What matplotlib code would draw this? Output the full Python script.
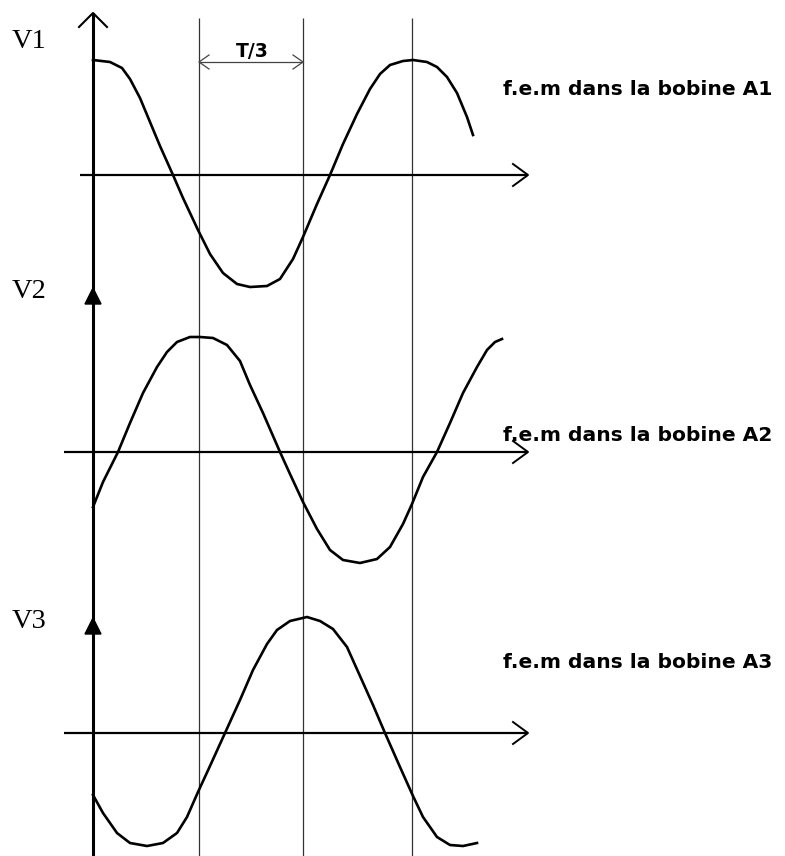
import numpy as np
import matplotlib
matplotlib.use("Agg")
import matplotlib.pyplot as plt
from matplotlib.patches import Polygon

# canvas in pixel units (x right, y down), 1 unit = 1 px
W, H = 785, 856

# emf curves: x position (px) and value above own time axis (px)
x_v1 = [93, 110, 122, 130, 140, 150, 160, 173, 183, 198, 210, 223, 237, 250, 267, 280, 293, 303,
        317, 330, 343, 357, 370, 380, 390, 403, 413, 427, 437, 447, 457, 467, 473]
v_v1 = [115, 113, 107, 96, 77, 53, 29, 0, -23, -55, -79, -98, -109, -112, -111, -104, -84, -62,
        -29, 0, 31, 61, 86, 101, 110, 114, 115, 113, 108, 98, 82, 58, 40]

x_v2 = [93, 103, 118, 130, 143, 157, 167, 177, 190, 200, 213, 227, 240, 250, 263, 280, 290, 303,
        317, 330, 343, 360, 377, 390, 403, 412, 423, 437, 450, 463, 477, 487, 495, 502]
v_v2 = [-55, -30, 0, 29, 59, 85, 100, 110, 115, 115, 114, 107, 91, 67, 39, 0, -22, -50,
        -77, -98, -108, -111, -107, -95, -72, -52, -25, 0, 29, 59, 85, 102, 110, 113]

x_v3 = [93, 103, 117, 130, 147, 163, 177, 187, 198, 210, 225, 240, 253, 267, 277, 290, 307, 320,
        333, 347, 360, 373, 385, 400, 413, 423, 437, 450, 463, 477]
v_v3 = [-62, -80, -100, -110, -113, -110, -100, -84, -59, -33, 0, 33, 63, 89, 103, 112, 116, 112,
        104, 86, 57, 28, 0, -34, -63, -84, -104, -112, -113, -110]

names = ["V1", "V2", "V3"]
captions = ["f.e.m dans la bobine A1", "f.e.m dans la bobine A2", "f.e.m dans la bobine A3"]
marks_x = [199, 303, 412]   # T/3 spacing marks

fig = plt.figure(figsize=(W / 100, H / 100), dpi=100)
ax = fig.add_axes([0, 0, 1, 1])
ax.set_xlim(0, W)
ax.set_ylim(H, 0)
ax.axis("off")

k = "black"
axis_y = [175, 452, 733]
axis_x0 = [80, 64, 64]
x_end = 528

# thin vertical marks
for xm in marks_x:
    ax.plot([xm, xm], [18, H], color="#333333", lw=0.9, solid_capstyle="butt")

# main vertical axis with open head on top
ax.plot([93, 93], [H, 13], color=k, lw=2.2, solid_capstyle="butt")
ax.plot([79, 93, 107], [27, 13, 27], color=k, lw=1.5)
for ty in [288, 618]:
    ax.add_patch(Polygon([[85, ty + 16], [93, ty], [101, ty + 16]], closed=True, color=k))

# time axes
for y0, x0 in zip(axis_y, axis_x0):
    ax.plot([x0, x_end], [y0, y0], color=k, lw=1.6, solid_capstyle="butt")
    ax.plot([x_end - 15, x_end, x_end - 15], [y0 - 11, y0, y0 + 11], color=k, lw=1.4)

# curves
for xs, vs, y0 in zip([x_v1, x_v2, x_v3], [v_v1, v_v2, v_v3], axis_y):
    ax.plot(xs, y0 - np.array(vs), color=k, lw=1.9, solid_joinstyle="round")

# T/3 dimension
ax.plot([marks_x[0], marks_x[1]], [62, 62], color="#444444", lw=0.9)
ax.plot([marks_x[0] + 10, marks_x[0], marks_x[0] + 10], [55, 62, 69], color="#444444", lw=0.9)
ax.plot([marks_x[1] - 10, marks_x[1], marks_x[1] - 10], [55, 62, 69], color="#444444", lw=0.9)
ax.text((marks_x[0] + marks_x[1]) / 2 + 1, 51, "T/3", ha="center", va="center",
        fontsize=13.5, fontweight="bold", family="DejaVu Sans")

# labels
for name, yb in zip(names, [48, 298, 628]):
    ax.text(12, yb, name, ha="left", va="baseline", fontsize=20.5, family="Liberation Serif")
for cap, yc in zip(captions, [89, 435, 663]):
    ax.text(503, yc, cap, ha="left", va="center", fontsize=14.6, fontweight="bold",
            family="DejaVu Sans")

fig.savefig("out.png", dpi=100)
